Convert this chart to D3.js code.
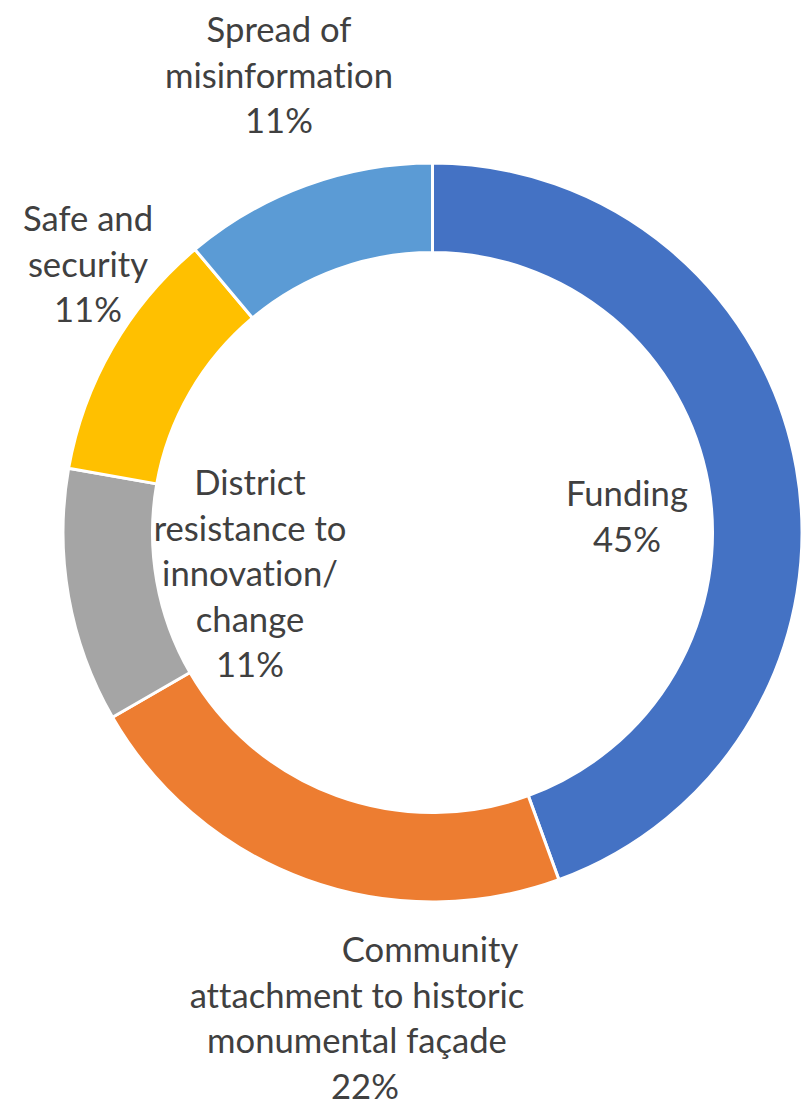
<!DOCTYPE html>
<html>
<head>
<meta charset="utf-8">
<script src="https://cdn.jsdelivr.net/npm/d3@7"></script>
<style>
  html, body { margin: 0; padding: 0; background: #ffffff; }
  svg { display: block; }
  text { font-variant-ligatures: none; font-feature-settings: "liga" 0, "clig" 0; }
</style>
</head>
<body>
<svg id="chart" width="808" height="1110"></svg>
<script>
// ---- data ----
const categories = [
  "Funding",
  "Community attachment to historic monumental façade",
  "District resistance to innovation/ change",
  "Safe and security",
  "Spread of misinformation"
];
const values = [4, 2, 1, 1, 1];
const percentLabels = ["45%", "22%", "11%", "11%", "11%"];
const labelLines = [
  ["Funding", "45%"],
  ["Community", "attachment to historic", "monumental façade", "22%"],
  ["District", "resistance to", "innovation/", "change", "11%"],
  ["Safe and", "security", "11%"],
  ["Spread of", "misinformation", "11%"]
];
const colors = ["#4472C4", "#ED7D31", "#A5A5A5", "#FFC000", "#5B9BD5"];

// ---- layout ----
const cx = 432.5, cy = 532.5, outerR = 369.5, innerR = 280;
const lineGap = 45.5;
// label block anchor: x center, first baseline, per-line x shifts
const labelLayout = [
  { x: 627, y: 506, shift: [0, 0] },
  { x: 357, y: 962, shift: [73, 0, 0, 8] },
  { x: 250, y: 495, shift: [0, 0, 0, 0, 0] },
  { x: 88,  y: 231, shift: [0, 0, 0] },
  { x: 279, y: 42,  shift: [0, 0, 0] }
];

const svg = d3.select("#chart");
const g = svg.append("g").attr("transform", `translate(${cx},${cy})`);

const pie = d3.pie().sort(null).value(d => d.value)
  .startAngle(0).endAngle(2 * Math.PI);
const arc = d3.arc().innerRadius(innerR).outerRadius(outerR);
const data = categories.map((c, i) => ({ name: c, value: values[i], color: colors[i] }));

g.selectAll("path.slice")
  .data(pie(data))
  .join("path")
  .attr("class", "slice")
  .attr("d", arc)
  .attr("fill", d => d.data.color)
  .attr("stroke", "#ffffff")
  .attr("stroke-width", 3)
  .attr("stroke-linejoin", "miter");

// ---- labels ----
const fontFamily = "Lato, 'Open Sans', sans-serif";
// size font so that "misinformation" spans ~228px, like the reference
const probe = svg.append("text").attr("font-family", fontFamily)
  .attr("font-size", 100).text("misinformation");
const w100 = probe.node().getComputedTextLength();
probe.remove();
const fontSize = 100 * 228 / w100;

const lab = svg.append("g").attr("class", "labels");
labelLines.forEach((lines, i) => {
  const L = labelLayout[i];
  const t = lab.append("text")
    .attr("font-family", fontFamily)
    .attr("font-size", fontSize)
    .attr("fill", "#404040")
    .attr("text-anchor", "middle");
  lines.forEach((ln, j) => {
    t.append("tspan")
      .attr("x", L.x + (L.shift[j] || 0))
      .attr("y", L.y + j * lineGap)
      .text(ln);
  });
});
</script>
</body>
</html>
